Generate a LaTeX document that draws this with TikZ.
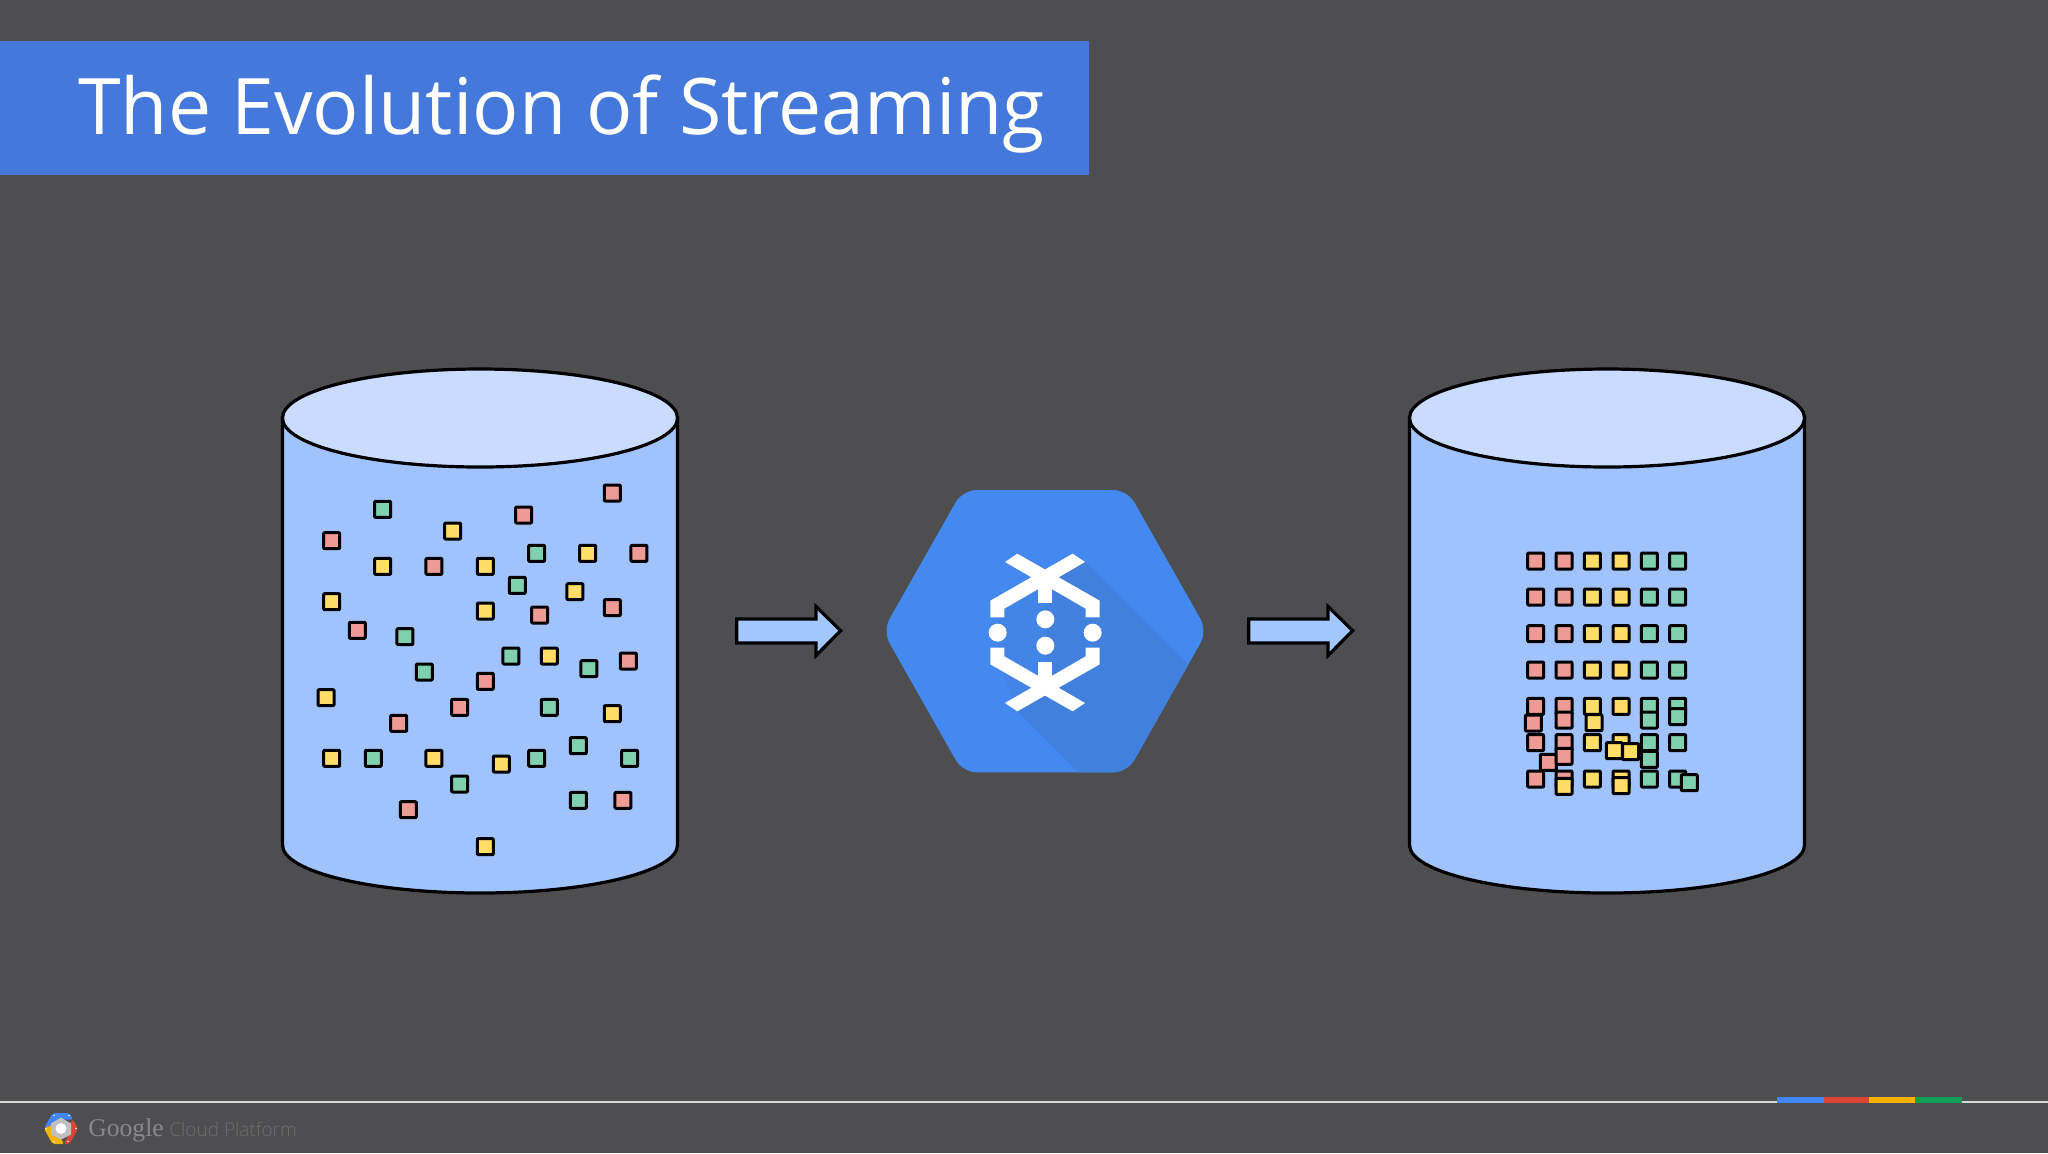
\documentclass[tikz,border=0pt]{standalone}
\usepackage{fontspec}
\setmainfont{Open Sans}[FakeStretch=0.987]
\newfontfamily\lightfont{Open Sans Light}
\newfontfamily\gfont{Liberation Serif}
\definecolor{bgc}{HTML}{4E4E50}
\definecolor{bandc}{HTML}{4479DB}
\definecolor{bodyc}{HTML}{A0C2FD}
\definecolor{topc}{HTML}{C9DBFF}
\definecolor{arrowc}{HTML}{A4C6FF}
\definecolor{redc}{HTML}{EE9B95}
\definecolor{yelc}{HTML}{FFDD66}
\definecolor{grnc}{HTML}{7FD0AE}
\definecolor{hexc}{HTML}{4489F0}
\definecolor{shadc}{HTML}{4180DC}
\definecolor{gblue}{HTML}{4285F4}
\definecolor{gred}{HTML}{DB4437}
\definecolor{gyel}{HTML}{F4B400}
\definecolor{ggrn}{HTML}{0F9D58}
\tikzset{
  tok/.style={draw=black,line width=1.5pt,rounded corners=0.4pt,line join=round},
  cyl/.style={draw=black,line width=1.6pt},
  arr/.style={draw=black,fill=arrowc,line width=1.6pt,line join=miter},
}
\newcommand{\tk}[3]{\path[tok,fill=#3] ({#1-24},{#2-24}) rectangle ({#1+24},{#2+24});}
\newcommand{\cylinder}[1]{%
  \begin{scope}[shift={(#1,0)}]
    \path[cyl,fill=bodyc] (0,418) -- (0,845) arc[start angle=180,end angle=360,x radius=197.5,y radius=-48] -- (395,418) -- cycle;
    \path[cyl,fill=topc] (197.5,418) ellipse[x radius=197.5,y radius=49];
  \end{scope}}
\newcommand{\bigarrow}[1]{%
  \path[arr,shift={(#1,0)}] (736.7,619) -- (816,619) -- (816,606.5) -- (840.7,630.7) -- (816,655.5) -- (816,643) -- (736.7,643) -- cycle;}
\begin{document}
\begin{tikzpicture}[x=0.5pt,y=-0.5pt]
\useasboundingbox (0,0) rectangle (2048,1153);
\fill[bgc] (0,0) rectangle (2048,1153);
% title
\fill[bandc] (0,41) rectangle (1089,175);
\node[anchor=base west,inner sep=0pt,text=white,font=\fontsize{39}{39}\selectfont] (title) at (78,134) {The Evolution of Streaming};
% cylinders
\cylinder{282.5}
\cylinder{1409.5}
% arrows
\bigarrow{0}
\bigarrow{512}
% scattered tokens
\begin{scope}[shift={(260,470)},x=0.5pt/3,y=-0.5pt/3]
\foreach \a/\b/\c in {1057/69/redc,368/118/grnc,791/135/redc,578/183/yelc,215/212/redc,830/250/grnc,983/250/yelc,1137/250/redc,368/289/yelc,522/289/redc,676/289/yelc,772/346/grnc,945/365/yelc,215/395/yelc,676/423/yelc,839/435/redc,1057/413/redc,292/481/redc,435/500/grnc,753/558/grnc,868/558/yelc,987/596/grnc,1105/573/redc,493/606/grnc,676/634/redc,198/683/yelc,599/712/redc,868/712/grnc,1057/731/yelc,416/760/redc,215/865/yelc,340/865/grnc,522/865/yelc,724/882/yelc,830/865/grnc,955/827/grnc,1109/865/grnc,599/942/grnc,955/991/grnc,1089/991/redc,445/1019/redc,676/1130/yelc}{\tk{\a}{\b}{\c}}
\end{scope}
% ordered tokens
\begin{scope}[shift={(1480,530)},x=0.5pt/3,y=-0.5pt/3]
\foreach \b in {93,201,311,420,529,638,747}{
  \foreach \a/\c in {167/redc,252/redc,337/yelc,423/yelc,508/grnc,593/grnc}{\tk{\a}{\b}{\c}}
}
\foreach \a/\b/\c in {160/579/redc,252/570/redc,342/578/yelc,508/570/grnc,593/560/grnc,205/697/redc,252/679/redc,403/662/yelc,452/665/yelc,508/688/grnc,252/769/yelc,423/767/yelc,628/758/grnc}{\tk{\a}{\b}{\c}}
\end{scope}
% hexagon icon
\begin{scope}[shift={(870,470)},x=0.5pt/3,y=-0.5pt/3]
\begin{scope}
\clip[rounded corners=7pt] (38,483) -- (278,60) -- (772,60) -- (1012,483) -- (772,907) -- (278,907) -- cycle;
\fill[hexc] (0,0) rectangle (1050,950);
\fill[shadc] (526,321) -- (646,275) -- (1100,729) -- (1100,1000) -- (718,1000) -- (440,722) -- (526,654) -- cycle;
\fill[hexc!50!shadc] (526,321) -- (382,420) -- (382,560) -- (440,722) -- (526,654) -- cycle;
\end{scope}
\foreach \m/\o in {1/0,-1/975}{
  \begin{scope}[yshift={\o*(-0.5pt/3)},y={\m*(-0.5pt/3)}]
    \fill[white] (442,251) -- (689,392) -- (689,442) -- (647,442) -- (647,416) -- (405,276) -- cycle;
    \fill[white] (608,251) -- (361,392) -- (361,442) -- (403,442) -- (403,416) -- (645,276) -- cycle;
    \fill[white] (505,321) rectangle (547,400);
  \end{scope}
}
\foreach \a/\b in {383/488,668/488,526/448,526/527}{\fill[white] (\a,\b) circle[radius=4.5pt];}
\end{scope}
% footer
\fill[white!85!black] (0,1101) rectangle (2048,1103);
\fill[gblue] (1777,1097) rectangle (1824,1103);
\fill[gred] (1824,1097) rectangle (1869,1103);
\fill[gyel] (1869,1097) rectangle (1915,1103);
\fill[ggrn] (1915,1097) rectangle (1962,1103);
% logo
\begin{scope}[shift={(61,1128.5)}]
\fill[gblue,rounded corners=1pt] (-17,0) -- (-8.5,-15.5) -- (8.5,-15.5) -- (12,-9) -- (0,-9) -- (-8,-4) -- cycle;
\fill[gred,rounded corners=1pt] (17,0) -- (8.5,15.5) -- (3,15.5) -- (8,5) -- (8,-4) -- (12,-9) -- cycle;
\fill[gyel,rounded corners=1pt] (-17,0) -- (-8,-4) -- (-8,5) -- (0,10) -- (3,15.5) -- (-8.5,15.5) -- cycle;
\fill[black!25] (-10,-5) -- (0,-11) -- (10,-5) -- (10,6) -- (0,11) -- (-10,6) -- cycle;
\fill[white] (0,0) circle[radius=5.5];
\foreach \a/\b in {-7/-13,8/-13,-15/0,15/0,-7/13,7/13}{\fill[white!80!gyel] (\a,\b) circle[radius=0.9];}
\end{scope}
\node[anchor=base west,inner sep=0pt,text=white!33!bgc,font=\gfont\fontsize{12.8}{12.8}\selectfont] (google) at (88,1136) {Google};
\node[anchor=base west,inner sep=0pt,text=white!18!bgc,font=\lightfont\fontsize{9.5}{9.5}\selectfont] (cloud) at (169,1136) {Cloud Platform};
\end{tikzpicture}
\end{document}
